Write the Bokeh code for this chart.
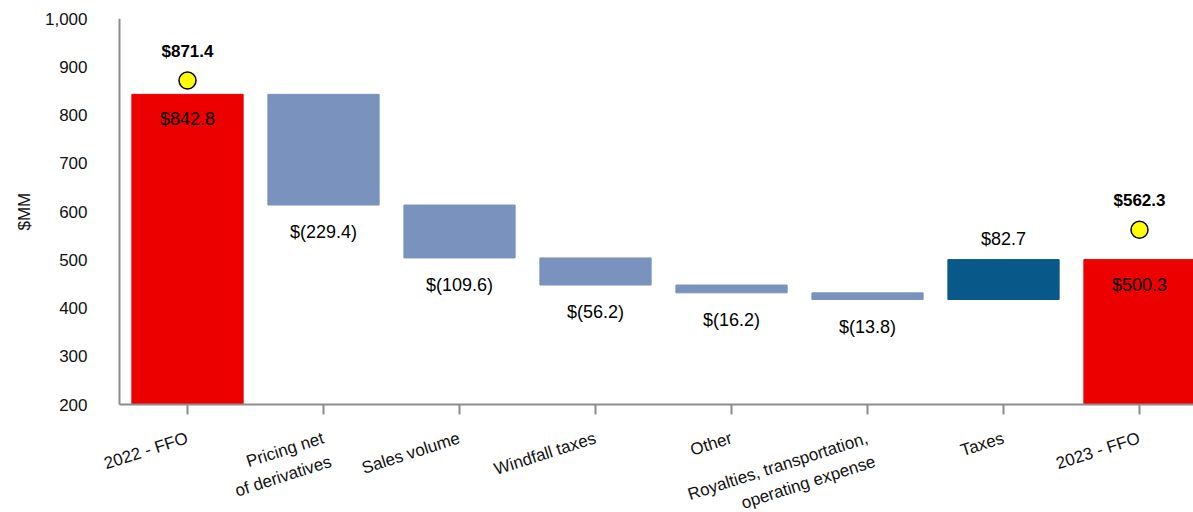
from bokeh.plotting import figure
from bokeh.models import ColumnDataSource, Range1d, FixedTicker, NumeralTickFormatter, LinearAxis, Title
from bokeh.core.properties import value
from bokeh.embed import file_html
from bokeh.resources import INLINE

# ---- data ----
categories = ["2022 - FFO", "Pricing net\nof derivatives", "Sales volume", "Windfall taxes",
              "Other", "Royalties, transportation,\noperating expense", "Taxes", "2023 - FFO"]
start_total = 842.8
changes = [-229.4, -109.6, -56.2, -16.2, -13.8, 82.7]
end_total = 500.3
marker_values = [871.4, 562.3]
marker_positions = [0, 7]
y_ticks = [200, 300, 400, 500, 600, 700, 800, 900, 1000]

RED = "#EC0000"
NEG = "#7A93BE"
POS = "#08588A"
FONT = "Liberation Sans"
AXIS_GRAY = "#8C8C8C"

base = y_ticks[0]
n = len(categories)

# ---- build waterfall ----
xs, bottoms, tops, colors, lab_y, lab_off, labels = [], [], [], [], [], [], []
xs.append(0); bottoms.append(base); tops.append(start_total); colors.append(RED)
lab_y.append(start_total); lab_off.append(25); labels.append(f"${start_total:.1f}")
running = start_total
for i, c in enumerate(changes, start=1):
    lo, hi = min(running, running + c), max(running, running + c)
    xs.append(i); bottoms.append(lo); tops.append(hi)
    if c < 0:
        colors.append(NEG); lab_y.append(lo); lab_off.append(27); labels.append(f"$({abs(c):.1f})")
    else:
        colors.append(POS); lab_y.append(hi); lab_off.append(-21); labels.append(f"${c:.1f}")
    running += c
xs.append(n - 1); bottoms.append(base); tops.append(end_total); colors.append(RED)
lab_y.append(end_total); lab_off.append(25); labels.append(f"${end_total:.1f}")

bars = ColumnDataSource(dict(x=xs, bottom=bottoms, top=tops, color=colors))
labsrc = ColumnDataSource(dict(x=xs, y=lab_y, off=lab_off, text=labels))
marks = ColumnDataSource(dict(x=marker_positions, y=marker_values,
                              text=[f"${v:.1f}" for v in marker_values]))
catsrc = ColumnDataSource(dict(x=list(range(n)), y=[base] * n, text=categories))

x_lo, x_hi = -0.5, 7.397
# frame starts at 100px so that the rotated first label is not clipped; axis line drawn at x = -0.5 (119px)
p = figure(width=1193, height=512, output_backend="svg", toolbar_location=None,
           x_range=Range1d(x_lo - 19 / 136, x_hi), y_range=Range1d(-23.8, 1000),
           x_axis_location=None,
           min_border_left=100, min_border_right=0, min_border_top=18, min_border_bottom=0)
p.outline_line_color = None
p.xgrid.grid_line_color = None
p.ygrid.grid_line_color = None

p.vbar(x="x", bottom="bottom", top="top", width=0.818, color="color", source=bars)
p.text(x="x", y="y", text="text", y_offset="off", source=labsrc, text_align="center",
       text_baseline="middle", text_font=value(FONT), text_font_size="18px", text_color="#000000")
p.scatter(x="x", y="y", source=marks, size=17, fill_color="#FFFF00", line_color="#000000", line_width=1.5)
p.text(x="x", y="y", text="text", y_offset=-29, source=marks, text_align="center",
       text_baseline="middle", text_font=value(FONT), text_font_size="17px",
       text_font_style="bold", text_color="#000000")

# rotated category labels (first line anchored near the tick, further lines below)
p.text(x="x", y="y", text="text", source=catsrc, angle=0.31, x_offset=-3, y_offset=24,
       text_align="right", text_baseline="top", text_font=value(FONT),
       text_font_size="17px", text_color="#111111", text_line_height=1.3)

# category axis drawn at y = 200 (ticks pointing down)
xa = LinearAxis(fixed_location=base, bounds=(x_lo, x_hi), ticker=FixedTicker(ticks=list(range(n))),
                major_label_overrides={i: "" for i in range(n)},
                major_label_text_font_size="0px", major_label_standoff=0,
                axis_line_color=AXIS_GRAY, axis_line_width=2,
                major_tick_line_color=AXIS_GRAY, major_tick_line_width=2,
                major_tick_in=10, major_tick_out=0, minor_tick_line_color=None)
p.add_layout(xa, "above")

# value axis: tick labels in the left panel
ya = p.yaxis[0]
ya.ticker = FixedTicker(ticks=y_ticks)
ya.formatter = NumeralTickFormatter(format="0,0")
ya.axis_line_color = None
ya.major_tick_line_color = None
ya.minor_tick_line_color = None
ya.major_tick_out = 0
ya.major_tick_in = 0
ya.major_label_text_font = FONT
ya.major_label_text_font_size = "17px"
ya.major_label_text_color = "#111111"
ya.major_label_standoff = 13

# value axis line at x = -0.5
yline = LinearAxis(fixed_location=x_lo, bounds=(base, y_ticks[-1]), ticker=FixedTicker(ticks=y_ticks),
                   major_label_overrides={t: "" for t in y_ticks}, major_label_text_font_size="0px",
                   axis_line_color=AXIS_GRAY, axis_line_width=2,
                   major_tick_line_color=None, minor_tick_line_color=None)
p.add_layout(yline, "left")

p.add_layout(Title(text="$MM", align="left", offset=282, standoff=16, text_font=FONT,
                   text_font_size="17px", text_font_style="normal", text_color="#111111"), "left")

open("out.html", "w").write(file_html(p, INLINE))
